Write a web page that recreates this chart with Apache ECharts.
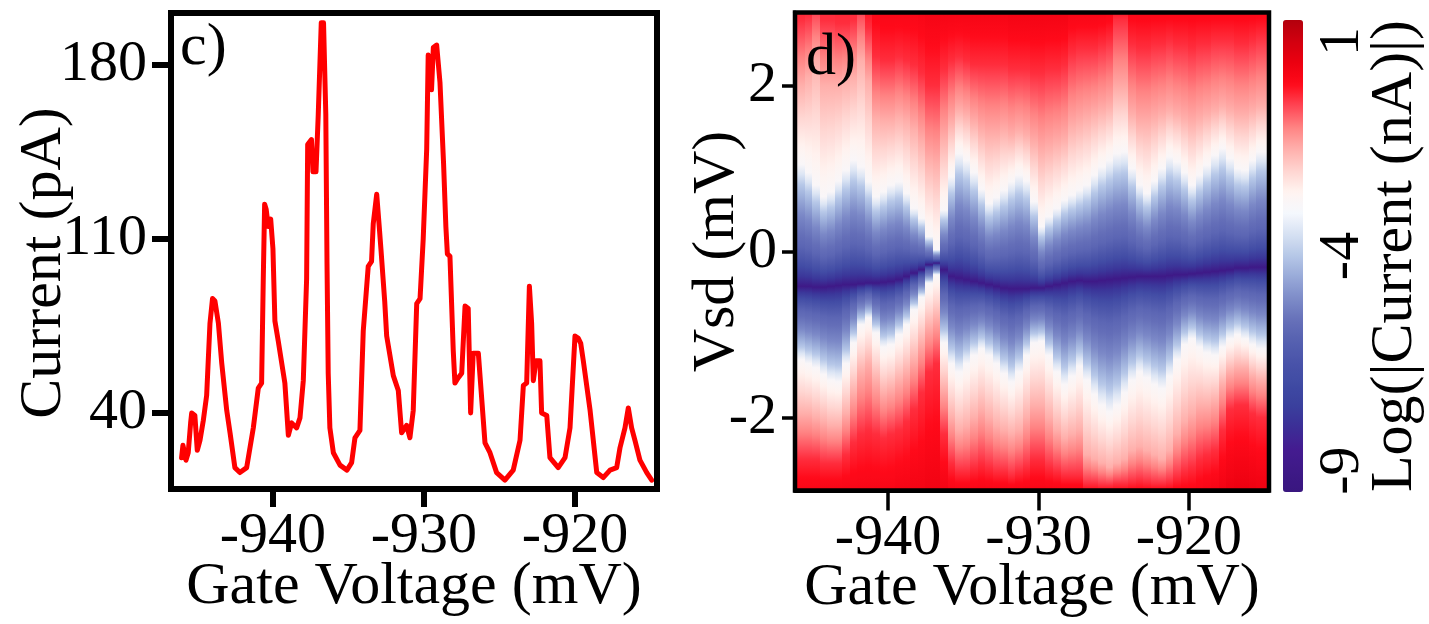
<!DOCTYPE html>
<html>
<head>
<meta charset="utf-8">
<script src="https://cdn.jsdelivr.net/npm/echarts@6/dist/echarts.min.js"></script>
<style>
  html, body { margin: 0; padding: 0; background: #ffffff; }
  #chart { width: 1429px; height: 624px; }
</style>
</head>
<body>
<div id="chart"></div>
<script>
// ---------- Panel c: current through the dot vs gate voltage ----------
const traceGateV = [
  -946.05, -945.96, -945.85, -945.76, -945.61, -945.45, -945.38, -945.17, -945.01, -944.83,
  -944.61, -944.39, -944.17, -944.0, -943.84, -943.61, -943.39, -943.06, -942.84, -942.52,
  -942.19, -941.74, -941.3, -940.97, -940.75, -940.64, -940.55, -940.45, -940.31, -940.15,
  -940.0, -939.87, -939.65, -939.21, -938.98, -938.76, -938.6, -938.43, -938.21, -937.99,
  -937.77, -937.7, -937.45, -937.35, -937.15, -937.0, -936.8, -936.65, -936.5, -936.42,
  -936.34, -936.23, -936.0, -935.56, -935.1, -934.79, -934.57, -934.24, -934.02, -933.69,
  -933.47, -933.36, -933.13, -932.95, -932.85, -932.6, -932.47, -932.03, -931.7, -931.48,
  -931.15, -930.93, -930.71, -930.48, -930.26, -930.05, -929.82, -929.72, -929.6, -929.5,
  -929.38, -929.16, -928.94, -928.7, -928.55, -928.45, -928.28, -928.06, -927.95, -927.75,
  -927.5, -927.28, -927.07, -926.91, -926.74, -926.4, -925.96, -925.63, -925.19, -924.64,
  -924.09, -923.64, -923.42, -923.2, -923.02, -922.87, -922.76, -922.58, -922.32, -922.21,
  -921.87, -921.66, -921.11, -920.66, -920.33, -920.0, -919.78, -919.62, -919.45, -919.0,
  -918.56, -918.13, -917.68, -917.24, -917.02, -916.69, -916.47, -916.25, -916.03, -915.7,
  -915.25, -914.92
];
const traceCurrent = [
  22, 27, 24, 21, 24, 36, 40, 39, 25, 29,
  37, 47, 76, 86, 85, 76, 60, 41, 32, 18,
  16, 18, 34, 50, 52, 94, 124, 122, 115, 118,
  106, 77, 69, 52, 31, 36, 35, 34, 38, 53,
  94, 148, 150, 137, 137, 160, 197, 197, 160, 100,
  56, 34, 24, 19, 17, 20, 30, 33, 73, 99,
  101, 116, 128, 114, 106, 85, 71, 55, 49, 32,
  35, 30, 41, 84, 86, 110, 146, 184, 180, 170,
  187, 188, 173, 140, 115, 104, 103, 65, 52, 54,
  56, 83, 82, 40, 64, 64, 28, 24, 16, 13,
  17, 29, 51, 52, 91, 76, 53, 61, 61, 40,
  39, 22, 18, 22, 34, 71, 70, 68, 61, 41,
  16, 14, 17, 18, 26, 34, 42, 34, 29, 21,
  16, 13
];
const currentTicks = [40, 110, 180];
const gateTicks = [-940, -930, -920];

// ---------- Panel d: log|I| map over (gate voltage, Vsd) ----------
// One vertical strip per gate-voltage column. For every column the
// Vsd positions of the iso-current contours are listed, plus log|I|
// at the top and bottom rows of the map.
const mapGateV = [
  -945.75, -945.25, -944.75, -944.25, -943.75, -943.25, -942.75, -942.25, -941.75, -941.25,
  -940.75, -940.25, -939.75, -939.25, -938.75, -938.25, -937.75, -937.25, -936.75, -936.25,
  -935.75, -935.25, -934.75, -934.25, -933.75, -933.25, -932.75, -932.25, -931.75, -931.25,
  -930.75, -930.25, -929.75, -929.25, -928.75, -928.25, -927.75, -927.25, -926.75, -926.25,
  -925.75, -925.25, -924.75, -924.25, -923.75, -923.25, -922.75, -922.25, -921.75, -921.25,
  -920.75, -920.25, -919.75, -919.25, -918.75, -918.25, -917.75, -917.25, -916.75, -916.25,
  -915.75, -915.25
];
// log|I| at the top row (Vsd = +2.88 mV)
const topLogI = [
  -0.25, -0.35, -0.5, -0.3, -0.3, -0.25, -0.25, -0.3, -0.5, -0.1,
  0.1, 0.15, 0.15, 0.15, 0.15, 0.15, 0.2, 0.25, 0.25, 0.25,
  0.25, 0.25, 0.25, 0.25, 0.25, 0.25, 0.25, 0.25, 0.3, 0.3,
  0.3, 0.3, 0.3, 0.3, 0.3, 0.3, 0.2, 0.2, 0.2, 0.2,
  0.2, 0.15, -0.1, -0.1, 0.1, 0.1, 0.1, 0.1, 0.1, 0.1,
  0.1, 0.1, 0.1, 0.1, 0.1, 0.1, 0.1, 0.1, 0.1, 0.1,
  0.1, 0.1
];
// Vsd where log|I| = -0.3 on the positive-bias side
const redUpperVsd = [
  2.8, 2.85, 2.9, 2.8, 2.8, 2.75, 2.75, 2.8, 2.9, 2.7,
  2.35, 2.3, 2.3, 2.35, 2.3, 2.25, 2.15, 2.0, 2.0, 2.2,
  2.3, 2.35, 2.3, 2.25, 2.25, 2.25, 2.25, 2.25, 2.2, 2.2,
  2.2, 2.15, 2.15, 2.2, 2.2, 2.25, 2.4, 2.45, 2.45, 2.45,
  2.5, 2.55, 2.8, 2.8, 2.5, 2.45, 2.45, 2.5, 2.5, 2.55,
  2.5, 2.5, 2.45, 2.5, 2.5, 2.55, 2.55, 2.55, 2.5, 2.5,
  2.55, 2.6
];
// Vsd where log|I| = -1.5 on the positive-bias side
const pinkUpperVsd = [
  2.0, 2.1, 2.3, 2.0, 2.0, 2.0, 2.05, 2.1, 2.3, 2.05,
  1.6, 1.57, 1.57, 1.62, 1.57, 1.47, 1.32, 1.1, 1.05, 1.35,
  1.55, 1.7, 1.65, 1.55, 1.45, 1.4, 1.4, 1.45, 1.4, 1.45,
  1.4, 1.3, 1.2, 1.25, 1.3, 1.35, 1.5, 1.55, 1.6, 1.65,
  1.7, 1.75, 1.95, 1.95, 1.65, 1.55, 1.55, 1.6, 1.65, 1.7,
  1.65, 1.6, 1.55, 1.6, 1.65, 1.7, 1.75, 1.7, 1.65, 1.65,
  1.7, 1.75
];
// Upper edge of the blockade region (log|I| = -2.8)
const whiteUpperVsd = [
  1.05, 0.95, 0.8, 0.66, 0.72, 0.85, 0.98, 1.1, 1.02, 0.84,
  0.66, 0.72, 0.8, 0.84, 0.7, 0.52, 0.4, 0.18, 0.02, 0.5,
  0.9, 1.18, 1.1, 0.95, 0.75, 0.58, 0.65, 0.74, 0.84, 0.92,
  0.85, 0.6, 0.3, 0.42, 0.52, 0.62, 0.68, 0.74, 0.8, 0.92,
  1.02, 1.1, 1.18, 1.2, 1.0, 0.8, 0.7, 0.85, 1.0, 1.14,
  1.08, 0.95, 0.8, 0.92, 1.04, 1.16, 1.24, 1.12, 1.0, 0.98,
  1.1, 1.2
];
// Current minimum inside the blockade region (log|I| = -9)
const centerVsd = [
  -0.42, -0.42, -0.43, -0.43, -0.42, -0.41, -0.4, -0.4, -0.39, -0.38,
  -0.38, -0.37, -0.36, -0.34, -0.3, -0.26, -0.22, -0.16, -0.14, -0.22,
  -0.3, -0.32, -0.34, -0.36, -0.38, -0.4, -0.42, -0.44, -0.45, -0.45,
  -0.45, -0.44, -0.44, -0.42, -0.4, -0.38, -0.36, -0.35, -0.36, -0.36,
  -0.35, -0.34, -0.33, -0.32, -0.31, -0.3, -0.3, -0.3, -0.3, -0.29,
  -0.28, -0.28, -0.27, -0.26, -0.25, -0.24, -0.23, -0.22, -0.2, -0.2,
  -0.19, -0.19
];
// Lower edge of the blockade region (log|I| = -2.8)
const whiteLowerVsd = [
  -1.3, -1.35, -1.4, -1.48, -1.55, -1.57, -1.35, -1.1, -0.88, -0.8,
  -0.98, -1.15, -1.12, -1.0, -0.88, -0.7, -0.55, -0.38, -0.28, -1.1,
  -1.35, -1.45, -1.35, -1.25, -1.17, -1.25, -1.35, -1.47, -1.57, -1.45,
  -1.25, -1.1, -1.08, -1.25, -1.45, -1.6, -1.5, -1.38, -1.55, -1.72,
  -1.85, -1.93, -1.85, -1.7, -1.55, -1.45, -1.52, -1.6, -1.65, -1.5,
  -1.3, -1.12, -1.05, -1.15, -1.22, -1.25, -1.15, -1.05, -1.0, -1.05,
  -1.12, -1.17
];
// Vsd where log|I| = -1.5 on the negative-bias side
const pinkLowerVsd = [
  -1.95, -1.95, -2.0, -2.05, -2.1, -2.1, -1.95, -1.7, -1.45, -1.35,
  -1.55, -1.7, -1.65, -1.55, -1.45, -1.3, -1.1, -0.9, -0.8, -1.65,
  -2.0, -2.15, -2.1, -2.0, -1.9, -2.0, -2.1, -2.15, -2.2, -2.15,
  -2.0, -1.85, -1.85, -2.0, -2.15, -2.25, -2.2, -2.15, -2.45, -2.5,
  -2.55, -2.6, -2.55, -2.5, -2.4, -2.35, -2.4, -2.45, -2.5, -2.4,
  -2.2, -2.05, -1.95, -1.85, -1.85, -1.8, -1.6, -1.45, -1.4, -1.4,
  -1.5, -1.55
];
// Vsd where log|I| = -0.3 on the negative-bias side
const redLowerVsd = [
  -2.5, -2.5, -2.5, -2.55, -2.55, -2.55, -2.45, -2.3, -2.2, -2.15,
  -2.2, -2.25, -2.2, -2.15, -2.05, -1.9, -1.7, -1.45, -1.35, -2.2,
  -2.55, -2.65, -2.65, -2.6, -2.55, -2.6, -2.65, -2.65, -2.7, -2.65,
  -2.6, -2.5, -2.5, -2.6, -2.65, -2.7, -2.7, -2.7, -2.8, -2.8,
  -2.82, -2.82, -2.8, -2.8, -2.78, -2.76, -2.78, -2.8, -2.8, -2.78,
  -2.72, -2.65, -2.6, -2.5, -2.45, -2.4, -2.15, -1.9, -1.85, -1.85,
  -1.95, -2.0
];
// log|I| at the bottom row (Vsd = -2.88 mV)
const bottomLogI = [
  0.2, 0.2, 0.2, 0.2, 0.2, 0.2, 0.2, 0.2, 0.2, 0.2,
  0.2, 0.2, 0.2, 0.25, 0.25, 0.3, 0.3, 0.35, 0.35, 0.3,
  0.2, 0.2, 0.2, 0.2, 0.2, 0.2, 0.2, 0.2, 0.2, 0.2,
  0.2, 0.2, 0.2, 0.2, 0.2, 0.2, 0.2, 0.2, 0.0, 0.0,
  0.0, 0.0, 0.0, 0.0, 0.05, 0.05, 0.05, 0.05, 0.05, 0.05,
  0.1, 0.1, 0.1, 0.15, 0.2, 0.25, 0.35, 0.45, 0.5, 0.5,
  0.45, 0.4
];
const vsdTicks = [-2, 0, 2];
const colorbarTicks = [-9, -4, 1];

// Red-white-blue colour scale, evenly spaced from -9.5 to 1.5 in steps of 0.5
const CMAP_MIN = -9.5, CMAP_MAX = 1.5, CMAP_STEP = 0.5;
const cmapColors = [
  '#39167f', '#3e1987', '#441b90', '#3c2e96', '#3a409d', '#3f4aa3', '#4953a9', '#5560b0',
  '#6670b9', '#7d8bc8', '#98a9d8', '#b5c7e7', '#d6e1f2', '#f5f8fd', '#fff3f0', '#ffd4d0',
  '#ffafab', '#ff8383', '#ff4554', '#ff0a1a', '#ec0010', '#d2000f', '#b3000c'
];

// Shape of log|I| inside the blockade region, from its edge (0) to the minimum (1)
const blueProfileS = [0, 0.15, 0.4, 0.7, 0.88, 1];
const blueProfileV = [-2.8, -3.9, -5.0, -5.9, -7.2, -9];

const VSD_MIN = -2.88, VSD_MAX = 2.88;
const FONT = 'Liberation Serif';

function hexToRgb(h) {
  return [parseInt(h.slice(1, 3), 16), parseInt(h.slice(3, 5), 16), parseInt(h.slice(5, 7), 16)];
}
const cmapRgb = cmapColors.map(hexToRgb);
function colorOf(v) {
  const t = (v - CMAP_MIN) / CMAP_STEP;
  const i = Math.max(0, Math.min(cmapRgb.length - 2, Math.floor(t)));
  const f = Math.max(0, Math.min(1, t - i));
  const a = cmapRgb[i], b = cmapRgb[i + 1];
  return 'rgb(' + [0, 1, 2].map(c => Math.round(a[c] + (b[c] - a[c]) * f)).join(',') + ')';
}
function blueValue(s) {
  for (let j = 0; j < blueProfileS.length - 1; j++) {
    if (s <= blueProfileS[j + 1]) {
      const f = (s - blueProfileS[j]) / (blueProfileS[j + 1] - blueProfileS[j]);
      return blueProfileV[j] + (blueProfileV[j + 1] - blueProfileV[j]) * f;
    }
  }
  return blueProfileV[blueProfileV.length - 1];
}

// Colour stops of one strip, following its contours from top to bottom.
function stripStops(k, yOf, yTop, yBot) {
  const raw = [
    { vsd: VSD_MAX, v: topLogI[k], kind: 'end' },
    { vsd: redUpperVsd[k], v: -0.3, kind: 'lin' },
    { vsd: pinkUpperVsd[k], v: -1.5, kind: 'lin' },
    { vsd: whiteUpperVsd[k], v: -2.8, kind: 'edge' },
    { vsd: centerVsd[k], v: -9, kind: 'center' },
    { vsd: whiteLowerVsd[k], v: -2.8, kind: 'edge' },
    { vsd: pinkLowerVsd[k], v: -1.5, kind: 'lin' },
    { vsd: redLowerVsd[k], v: -0.3, kind: 'lin' },
    { vsd: VSD_MIN, v: bottomLogI[k], kind: 'end' }
  ];
  const anchors = [raw[0]];
  for (let j = 1; j < raw.length - 1; j++) {
    const a = raw[j];
    if (a.vsd < anchors[anchors.length - 1].vsd && a.vsd > VSD_MIN) anchors.push(a);
  }
  anchors.push(raw[raw.length - 1]);

  const span = yBot - yTop;
  const stops = [];
  const SUB = 12;
  for (let j = 0; j < anchors.length - 1; j++) {
    const a = anchors[j], b = anchors[j + 1];
    for (let s = 0; s < SUB; s++) {
      const t = s / SUB;
      let v;
      if (a.kind === 'edge' && b.kind === 'center') v = blueValue(t);
      else if (a.kind === 'center' && b.kind === 'edge') v = blueValue(1 - t);
      else v = a.v + (b.v - a.v) * t;
      const vsd = a.vsd + (b.vsd - a.vsd) * t;
      const off = (yOf(vsd) - yTop) / span;
      stops.push({ offset: Math.max(0, Math.min(1, off)), color: colorOf(v) });
    }
  }
  const last = anchors[anchors.length - 1];
  stops.push({ offset: 1, color: colorOf(last.v) });
  return stops;
}

const chart = echarts.init(document.getElementById('chart'), null, { renderer: 'canvas' });

const labelStyle = { fontFamily: FONT, fontSize: 58, color: '#000' };
const nameStyle = { fontFamily: FONT, fontSize: 60, color: '#000' };

const option = {
  animation: false,
  backgroundColor: '#ffffff',
  grid: [
    { left: 171, top: 13, width: 486, height: 476, outerBoundsMode: 'none', containLabel: false },
    { left: 795, top: 12.5, width: 474, height: 478, outerBoundsMode: 'none', containLabel: false },
    { left: 1283, top: 20, width: 20, height: 472, outerBoundsMode: 'none', containLabel: false }
  ],
  xAxis: [
    {
      gridIndex: 0, type: 'value', min: -946.75, max: -914.57,
      axisLine: { show: true, onZero: false, lineStyle: { color: '#000', width: 6 } },
      axisTick: { show: true, length: 18, customValues: gateTicks, lineStyle: { color: '#000', width: 6 } },
      axisLabel: { customValues: gateTicks, margin: 19, ...labelStyle },
      splitLine: { show: false },
      name: 'Gate Voltage (mV)', nameLocation: 'middle', nameGap: 68, nameMoveOverlap: false,
      nameTextStyle: nameStyle
    },
    {
      gridIndex: 1, type: 'value', min: -946.18, max: -914.68,
      axisLine: { show: true, onZero: false, lineStyle: { color: '#000', width: 4 } },
      axisTick: { show: true, length: 20, customValues: gateTicks, lineStyle: { color: '#000', width: 3.5 } },
      axisLabel: { customValues: gateTicks, margin: 19, ...labelStyle },
      splitLine: { show: false },
      name: 'Gate Voltage (mV)', nameLocation: 'middle', nameGap: 68, nameMoveOverlap: false,
      nameTextStyle: nameStyle
    },
    { gridIndex: 2, type: 'value', min: 0, max: 1, show: false }
  ],
  yAxis: [
    {
      gridIndex: 0, type: 'value', min: 9.4, max: 200.9,
      axisLine: { show: true, onZero: false, lineStyle: { color: '#000', width: 6 } },
      axisTick: { show: true, length: 19, customValues: currentTicks, lineStyle: { color: '#000', width: 6 } },
      axisLabel: { customValues: currentTicks, margin: 24, ...labelStyle },
      splitLine: { show: false },
      name: 'Current (pA)', nameLocation: 'middle', nameGap: 97, nameRotate: 90, nameMoveOverlap: false,
      nameTextStyle: { ...nameStyle, padding: [0, 24, 0, 0] }
    },
    {
      gridIndex: 1, type: 'value', min: VSD_MIN, max: VSD_MAX,
      axisLine: { show: true, onZero: false, lineStyle: { color: '#000', width: 4 } },
      axisTick: { show: true, length: 13, customValues: vsdTicks, lineStyle: { color: '#000', width: 3.5 } },
      axisLabel: { customValues: vsdTicks, margin: 18, ...labelStyle },
      splitLine: { show: false },
      name: 'Vsd (mV)', nameLocation: 'middle', nameGap: 48, nameRotate: 90, nameMoveOverlap: false,
      nameTextStyle: nameStyle
    },
    {
      gridIndex: 2, type: 'value', position: 'right', min: CMAP_MIN, max: CMAP_MAX,
      axisLine: { show: false },
      axisTick: { show: true, length: 14, customValues: colorbarTicks, lineStyle: { color: '#000', width: 3.5 } },
      axisLabel: { customValues: colorbarTicks, margin: 11, rotate: 90, ...labelStyle },
      splitLine: { show: false },
      name: 'Log(|Current (nA)|)', nameLocation: 'middle', nameGap: 62, nameRotate: 90, nameMoveOverlap: false,
      nameTextStyle: nameStyle
    }
  ],
  visualMap: {
    type: 'continuous', seriesIndex: 1, dimension: 0,
    min: CMAP_MIN, max: CMAP_MAX, calculable: false, realtime: false,
    inRange: { color: cmapColors },
    orient: 'vertical', left: 1283, top: 20, itemWidth: 20, itemHeight: 472,
    padding: 0, text: null, showLabel: false, hoverLink: false
  },
  series: [
    {
      type: 'line', xAxisIndex: 0, yAxisIndex: 0,
      data: traceGateV.map((g, i) => [g, traceCurrent[i]]),
      symbol: 'none', showSymbol: false, clip: true,
      lineStyle: { color: '#ff0000', width: 5, join: 'round', cap: 'round' },
      z: 3
    },
    {
      type: 'custom', xAxisIndex: 1, yAxisIndex: 1, clip: true, z: 2,
      data: mapGateV.map((g, i) => [g, i]),
      encode: { x: 0 },
      renderItem: function (params, api) {
        const g = api.value(0);
        const k = api.value(1);
        const cs = params.coordSys;
        let x0 = api.coord([g - 0.25, 0])[0];
        let x1 = api.coord([g + 0.25, 0])[0];
        if (k === 0) x0 = cs.x;
        if (k === mapGateV.length - 1) x1 = cs.x + cs.width;
        const yTop = api.coord([g, VSD_MAX])[1];
        const yBot = api.coord([g, VSD_MIN])[1];
        const yOf = v => api.coord([g, v])[1];
        const stops = stripStops(k, yOf, yTop, yBot);
        return {
          type: 'rect',
          shape: { x: Math.floor(x0), y: yTop, width: Math.ceil(x1) - Math.floor(x0) + 0.6, height: yBot - yTop },
          style: { fill: new echarts.graphic.LinearGradient(0, 0, 0, 1, stops) }
        };
      }
    }
  ],
  graphic: [
    { type: 'rect', z: 100, shape: { x: 171, y: 13, width: 486, height: 476 },
      style: { fill: null, stroke: '#000', lineWidth: 6 } },
    { type: 'rect', z: 100, shape: { x: 795, y: 12.5, width: 474, height: 478 },
      style: { fill: null, stroke: '#000', lineWidth: 4.5 } },
    { type: 'text', z: 100, left: 180, top: 18,
      style: { text: 'c)', font: '60px "Liberation Serif", serif', fill: '#000' } },
    { type: 'text', z: 100, left: 806, top: 28,
      style: { text: 'd)', font: '60px "Liberation Serif", serif', fill: '#000' } }
  ]
};

chart.setOption(option);
</script>
</body>
</html>
